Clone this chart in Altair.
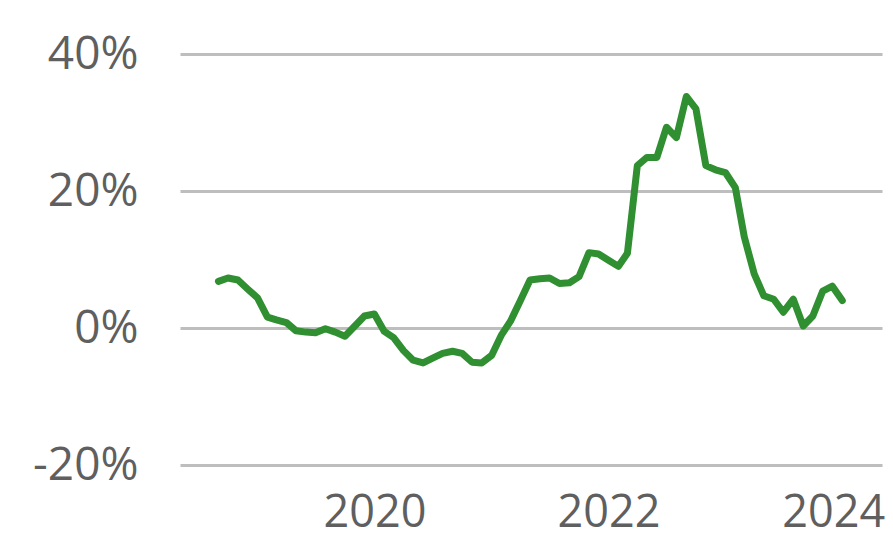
import altair as alt
import pandas as pd

# Monthly values, Sep 2018 - Jan 2024 (percent)
start_month = "2018-09-01"
values = [6.8, 7.3, 7.0, 5.7, 4.4, 1.6, 1.2, 0.8, -0.4, -0.6,
          -0.7, -0.1, -0.6, -1.2, 0.3, 1.75, 2.05, -0.5, -1.4, -3.3,
          -4.7, -5.1, -4.4, -3.7, -3.4, -3.7, -5.0, -5.1, -4.0, -1.0,
          1.0, 4.0, 7.0, 7.2, 7.3, 6.5, 6.6, 7.5, 11.0, 10.8,
          9.9, 9.0, 10.9, 23.7, 24.9, 24.9, 29.3, 27.8, 33.8, 32.0,
          23.7, 23.1, 22.7, 20.5, 13.3, 7.9, 4.7, 4.2, 2.3, 4.2,
          0.3, 1.75, 5.4, 6.1, 4.0]
y_ticks = [-20, 0, 20, 40]
x_tick_years = [2020, 2022, 2024]

dates = pd.date_range(start_month, periods=len(values), freq="MS")
df = pd.DataFrame({"date": dates.strftime("%Y-%m-%d"), "value": [v / 100 for v in values]})

FONT = "Open Sans"
TEXT = "#5f5f5f"

chart = alt.Chart(df).mark_line(
    color="#2F8F31", strokeWidth=7, strokeCap="round", strokeJoin="round"
).encode(
    x=alt.X(
        "date:T",
        scale=alt.Scale(
            type="utc",
            domain=[alt.DateTime(year=2018, month=5, date=4, utc=True),
                    alt.DateTime(year=2024, month=5, date=4, utc=True)],
        ),
        axis=alt.Axis(
            values=[alt.DateTime(year=y, month=1, date=1, utc=True) for y in x_tick_years],
            format="%Y", formatType="utc", title=None, grid=False, domain=False,
            ticks=False, labelFontSize=45, labelFont=FONT, labelColor=TEXT,
            labelPadding=25, labelFlush=False, labelOverlap=False, labelBound=False,
            labelOffset=alt.condition("utcyear(datum.value) == 2024", alt.value(-9), alt.value(0)),
        ),
    ),
    y=alt.Y(
        "value:Q",
        scale=alt.Scale(domain=[-0.2, 0.4], nice=False, zero=False),
        axis=alt.Axis(
            values=[t / 100 for t in y_ticks], format=".0%", title=None,
            labelExpr="replace(datum.label, '\u2212', '-')",
            grid=True, gridColor="#BEBEBE", gridWidth=3, domain=False,
            ticks=False, labelFontSize=46, labelFont=FONT, labelColor=TEXT,
            labelPadding=42,
        ),
    ),
).properties(
    width=702, height=411,
    background="white",
    autosize=alt.AutoSizeParams(type="none"),
    padding={"left": 172, "top": 46, "right": 3, "bottom": 82},
).configure_view(strokeWidth=0, stroke="transparent")

chart.save("out.html", embed_options={"renderer": "svg", "actions": False})
